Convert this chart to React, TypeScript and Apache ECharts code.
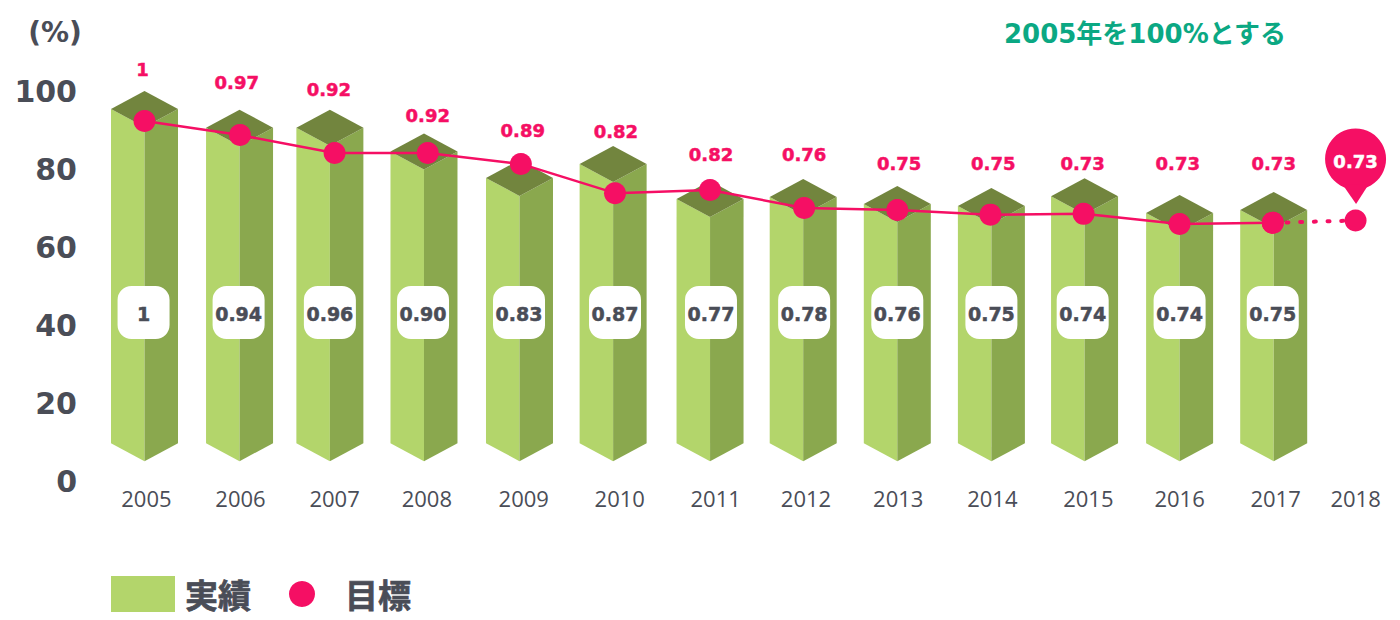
import React, { useEffect, useRef } from "react";
import * as echarts from "echarts";

const years = ["2005","2006","2007","2008","2009","2010","2011","2012","2013","2014","2015","2016","2017","2018"];
const yearLabelPos = [2005.02,2006.02,2007.02,2008.0,2009.03,2010.05,2011.07,2012.03,2013.01,2014.01,2015.03,2016.0,2017.02,2017.87];
const barPos = [2005,2006.01,2006.97,2007.97,2008.985,2009.98,2011.01,2012.0,2013.0,2014.0,2014.99,2016.0,2017.0];
const barValues = [95.4,90.6,90.6,84.5,77.7,81.3,72.3,72.8,71,70.5,73,68.7,69.5];
const barBase = 9.7;
const targetPos = [2005,2006.015,2007.02,2008.01,2009.0,2010.0,2011.01,2012.01,2013.0,2013.99,2014.98,2016.0,2016.99,2017.87];
const targetValues = [92.3,88.7,84.1,84.1,81.3,73.8,74.6,70,69.5,68.3,68.5,65.9,66.2,66.8];
const targetTexts = ["1","0.97","0.92","0.92","0.89","0.82","0.82","0.76","0.75","0.75","0.73","0.73","0.73"];
const targetTextPos = [2004.98,2005.98,2006.96,2008.01,2009.02,2010.01,2011.02,2012.01,2013.02,2014.02,2014.97,2015.98,2017.0];
const targetTextLevel = [105.4,102.3,100.5,93.6,90,89.5,83.6,83.6,81.3,81.3,81.5,81.3,81.3];
const actualTexts = ["1","0.94","0.96","0.90","0.83","0.87","0.77","0.78","0.76","0.75","0.74","0.74","0.75"];
const actualTextPos = [2004.99,2006.0,2006.97,2007.96,2008.98,2010.0,2011.02,2012.01,2013.0,2014.0,2014.97,2016.0,2016.99];
const actualTextLevel = 43.2;
const finalTargetText = "0.73";

const GRAY = "#4a4d57";
const PINK = "#f50f64";
const WIDE = "'DejaVu Sans', 'Noto Sans CJK JP', sans-serif";
const CJK = "'Noto Sans CJK JP', sans-serif";

export default function App() {
  const ref = useRef<HTMLDivElement>(null);
  useEffect(() => {
    const chart = echarts.init(ref.current!, null, { renderer: "svg" });
    chart.setOption({
      animation: false,
      backgroundColor: "#ffffff",
      title: {
        text: "2005年を100%とする",
        left: 999,
        top: 16,
        textStyle: { color: "#0ba883", fontFamily: WIDE, fontWeight: "bold", fontSize: 26 },
      },
      graphic: [
        {
          type: "text",
          x: 55,
          y: 32,
          style: { text: "(%)", fill: GRAY, fontFamily: WIDE, fontWeight: "bold", fontSize: 28, textAlign: "center", textVerticalAlign: "middle" },
        },
      ],
      legend: [
        {
          data: [{ name: "実績", icon: "rect" }],
          left: 111,
          top: 574,
          padding: 0,
          itemWidth: 64,
          itemHeight: 36,
          selectedMode: false,
          textStyle: { color: GRAY, textBorderColor: GRAY, textBorderWidth: 0.7, fontFamily: CJK, fontWeight: "bold", fontSize: 33, padding: [0, 0, 4, 5], lineHeight: 36 },
        },
        {
          data: [{ name: "目標", icon: "circle" }],
          left: 289,
          top: 574,
          padding: 0,
          itemWidth: 26,
          itemHeight: 26,
          selectedMode: false,
          textStyle: { color: GRAY, textBorderColor: GRAY, textBorderWidth: 0.7, fontFamily: CJK, fontWeight: "bold", fontSize: 33, padding: [0, 0, 4, 25], lineHeight: 36 },
        },
      ],
      grid: { left: 50.4, width: 1336.22, top: 91, height: 390, containLabel: false },
      xAxis: {
        type: "value",
        min: 2004,
        max: 2018.2,
        axisLine: { show: false },
        axisTick: { show: false },
        splitLine: { show: false },
        axisLabel: {
          customValues: yearLabelPos,
          formatter: (v: number) => years[yearLabelPos.indexOf(v)] ?? "",
          margin: 6,
          color: GRAY,
          fontFamily: "'Open Sans', sans-serif",
          fontSize: 22,
          fontWeight: 400,
          hideOverlap: false,
        },
      },
      yAxis: {
        type: "value",
        min: 0,
        max: 100,
        interval: 20,
        axisLine: { show: false },
        axisTick: { show: false },
        splitLine: { show: false },
        axisLabel: { margin: -26.6, color: GRAY, fontFamily: WIDE, fontWeight: "bold", fontSize: 30 },
      },
      series: [
        {
          name: "実績",
          type: "custom",
          z: 2,
          itemStyle: { color: "#b3d56b" },
          data: barPos.map((x, i) => [x, barValues[i]]),
          encode: { x: 0, y: 1 },
          renderItem: (_p: any, api: any) => {
            const x = api.value(0);
            const [cx, top] = api.coord([x, api.value(1)]);
            const [, base] = api.coord([x, barBase]);
            const hw = 33.5;
            const d = 18;
            return {
              type: "group",
              children: [
                { type: "polygon", shape: { points: [[cx - hw, top], [cx, top + d], [cx, base + d], [cx - hw, base]] }, style: { fill: "#b3d56b" } },
                { type: "polygon", shape: { points: [[cx + hw, top], [cx, top + d], [cx, base + d], [cx + hw, base]] }, style: { fill: "#8aa84e" } },
                { type: "polygon", shape: { points: [[cx - hw, top], [cx, top - d], [cx + hw, top], [cx, top + d]] }, style: { fill: "#72853e" } },
              ],
            };
          },
        },
        {
          name: "実績ラベル",
          type: "custom",
          z: 3,
          data: actualTextPos.map((x) => [x, actualTextLevel]),
          encode: { x: 0, y: 1 },
          renderItem: (p: any, api: any) => {
            const [cx, cy] = api.coord([api.value(0), api.value(1)]);
            return {
              type: "group",
              children: [
                { type: "rect", shape: { x: cx - 26, y: cy - 26.5, width: 52, height: 53, r: 14 }, style: { fill: "#ffffff" } },
                {
                  type: "text",
                  x: cx,
                  y: cy + 1,
                  style: { text: actualTexts[p.dataIndex], fill: GRAY, stroke: GRAY, lineWidth: 0.5, fontFamily: WIDE, fontWeight: "bold", fontSize: 19, textAlign: "center", textVerticalAlign: "middle" },
                },
              ],
            };
          },
        },
        {
          name: "目標",
          type: "line",
          z: 4,
          data: targetPos.slice(0, 13).map((x, i) => [x, targetValues[i]]),
          symbol: "circle",
          symbolSize: 22,
          showAllSymbol: true,
          lineStyle: { color: PINK, width: 2.5 },
          itemStyle: { color: PINK },
        },
        {
          name: "目標",
          type: "line",
          z: 4,
          data: targetPos.slice(12).map((x, i) => [x, targetValues[12 + i]]),
          symbol: "circle",
          symbolSize: 22,
          lineStyle: { color: PINK, width: 4, type: [2, 11.7], cap: "round" },
          itemStyle: { color: PINK },
        },
        {
          name: "目標ラベル",
          type: "custom",
          z: 5,
          data: targetTextPos.map((x, i) => [x, targetTextLevel[i]]),
          encode: { x: 0, y: 1 },
          renderItem: (p: any, api: any) => {
            const [cx, cy] = api.coord([api.value(0), api.value(1)]);
            return {
              type: "text",
              x: cx,
              y: cy,
              style: { text: targetTexts[p.dataIndex], fill: PINK, stroke: PINK, lineWidth: 0.5, fontFamily: WIDE, fontWeight: "bold", fontSize: 18, textAlign: "center", textVerticalAlign: "middle" },
            };
          },
        },
        {
          name: "目標2018",
          type: "custom",
          z: 6,
          data: [[targetPos[13], targetValues[13]]],
          encode: { x: 0, y: 1 },
          renderItem: (_p: any, api: any) => {
            const [cx, cy] = api.coord([api.value(0), api.value(1)]);
            return {
              type: "group",
              children: [
                { type: "circle", shape: { cx, cy: cy - 61.5, r: 30.5 }, style: { fill: PINK } },
                { type: "polygon", shape: { points: [[cx - 13, cy - 36], [cx + 13, cy - 36], [cx + 0.5, cy - 16.5]] }, style: { fill: PINK } },
                {
                  type: "text",
                  x: cx,
                  y: cy - 59,
                  style: { text: finalTargetText, fill: "#ffffff", stroke: "#ffffff", lineWidth: 0.5, fontFamily: WIDE, fontWeight: "bold", fontSize: 18, textAlign: "center", textVerticalAlign: "middle" },
                },
              ],
            };
          },
        },
      ],
    });
    return () => chart.dispose();
  }, []);
  return <div ref={ref} style={{ position: "absolute", left: 0, top: 0, width: 1400, height: 620 }} />;
}
